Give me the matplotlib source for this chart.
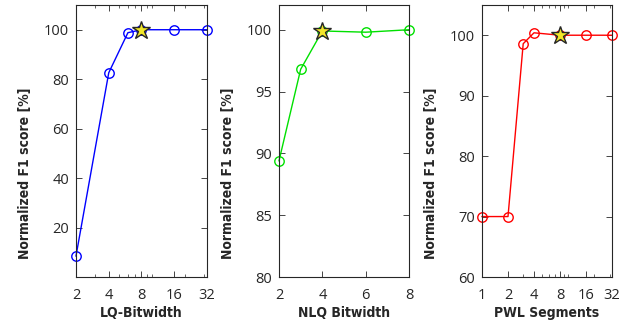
import matplotlib
matplotlib.use("Agg")
import matplotlib.pyplot as plt
from matplotlib.ticker import FixedLocator, NullFormatter, LogLocator

# Data
lq_bits = [2, 4, 6, 8, 16, 32]
lq_score = [8.5, 82.6, 98.8, 100.0, 100.0, 100.0]
lq_star = (8, 100.0)

nlq_bits = [2, 3, 4, 6, 8]
nlq_score = [89.4, 96.8, 99.9, 99.8, 100.0]
nlq_star = (4, 99.9)

pwl_seg = [1, 2, 3, 4, 8, 16, 32]
pwl_score = [70.0, 70.0, 98.6, 100.4, 100.0, 100.0, 100.0]
pwl_star = (8, 100.0)

plt.rcParams['font.family'] = ['Open Sans', 'DejaVu Sans']
axcol = '#262626'

fig = plt.figure(figsize=(6.34, 3.33), dpi=100)
W, H = 634, 333
def add_ax(l, r, t, b):
    return fig.add_axes([l / W, 1 - b / H, (r - l) / W, (b - t) / H])

ax1 = add_ax(76, 207, 5, 277)
ax2 = add_ax(279, 409, 5, 277)
ax3 = add_ax(482, 612, 5, 277)

lblfont = dict(family=['DejaVu Sans'], fontstretch='condensed',
               fontweight='bold', fontsize=10, color=axcol)

def style(ax):
    for s in ax.spines.values():
        s.set_color(axcol)
        s.set_linewidth(0.8)
    ax.tick_params(direction='in', top=True, right=True, colors=axcol,
                   labelsize=10.5, length=4, width=0.6, labelcolor=axcol)
    ax.tick_params(axis='x', pad=8)
    ax.tick_params(axis='y', pad=5)
    ax.tick_params(which='minor', direction='in', top=True, right=True,
                   length=2.5, width=0.5, colors=axcol)
    ax.set_ylabel('Normalized F1 score [%]', **lblfont)
    ax.yaxis.set_label_coords(-44 / 131, (277 - 173) / 272)

def draw(ax, x, y, star, col):
    ax.plot(x, y, '-', color=col, lw=1.0, marker='o', ms=6.8, mfc='none',
            mec=col, mew=1.0, zorder=2)
    ax.plot([star[0]], [star[1]], marker='*', ms=13.5, mfc='#f2e62a', mec='#262626',
            mew=1.0, ls='none', zorder=3)

# Panel 1
draw(ax1, lq_bits, lq_score, lq_star, '#0000ff')
ax1.set_xscale('log', base=2)
ax1.set_xlim(2, 32)
ax1.set_ylim(0, 110)
ax1.xaxis.set_major_locator(FixedLocator([2, 4, 8, 16, 32]))
ax1.set_xticklabels(['2', '4', '8', '16', '32'])
ax1.xaxis.set_minor_locator(LogLocator(base=10, subs=range(1, 10)))
ax1.xaxis.set_minor_formatter(NullFormatter())
ax1.set_yticks([20, 40, 60, 80, 100])
ax1.set_xlabel('LQ-Bitwidth', labelpad=2, **lblfont)
style(ax1)

# Panel 2
draw(ax2, nlq_bits, nlq_score, nlq_star, '#00e000')
ax2.set_xlim(2, 8)
ax2.set_ylim(80, 102)
ax2.set_xticks([2, 4, 6, 8])
ax2.set_yticks([80, 85, 90, 95, 100])
ax2.set_xlabel('NLQ Bitwidth', labelpad=2, **lblfont)
style(ax2)

# Panel 3
draw(ax3, pwl_seg, pwl_score, pwl_star, '#ff0000')
ax3.set_xscale('log', base=2)
ax3.set_xlim(1, 32)
ax3.set_ylim(60, 105)
ax3.xaxis.set_major_locator(FixedLocator([1, 2, 4, 8, 16, 32]))
ax3.set_xticklabels(['1', '2', '4', '8', '16', '32'])
ax3.xaxis.set_minor_locator(LogLocator(base=10, subs=range(1, 10)))
ax3.xaxis.set_minor_formatter(NullFormatter())
ax3.set_yticks([60, 70, 80, 90, 100])
ax3.set_xlabel('PWL Segments', labelpad=2, **lblfont)
style(ax3)

for ax in (ax1, ax2, ax3):
    for m in ax.lines:
        m.set_clip_on(False)

fig.savefig('out.png', dpi=100, facecolor='white')
